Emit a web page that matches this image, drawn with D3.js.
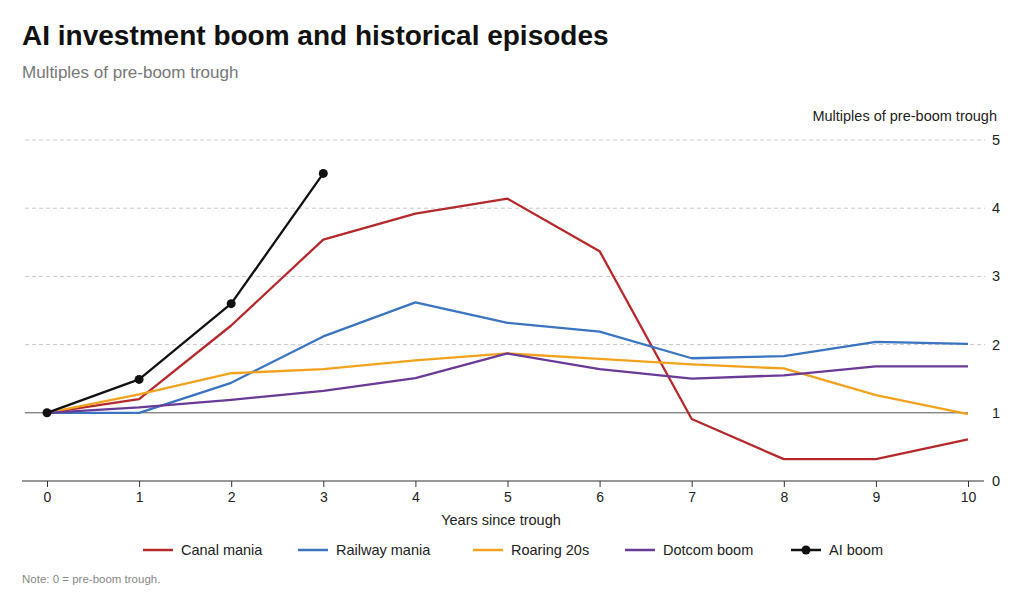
<!DOCTYPE html>
<html>
<head>
<meta charset="utf-8">
<script src="https://cdn.jsdelivr.net/npm/d3@7"></script>
<style>
  body { margin: 0; background: #fff; }
  svg { display: block; font-family: "Liberation Sans", Arial, Helvetica, sans-serif; }
</style>
</head>
<body>
<svg id="chart" width="1024" height="600"></svg>
<script>
// years since trough
const years = [0, 1, 2, 3, 4, 5, 6, 7, 8, 9, 10];

// multiples of pre-boom trough
const canal   = [1, 1.2, 2.28, 3.54, 3.92, 4.14, 3.37, 0.91, 0.32, 0.32, 0.61];
const railway = [1, 1.0, 1.44, 2.12, 2.62, 2.32, 2.19, 1.80, 1.83, 2.04, 2.01];
const roaring = [1, 1.27, 1.58, 1.64, 1.77, 1.87, 1.79, 1.71, 1.65, 1.26, 0.98];
const dotcom  = [1, 1.08, 1.19, 1.32, 1.51, 1.87, 1.64, 1.50, 1.55, 1.68, 1.68];
const aiBoom  = [1, 1.49, 2.60, 4.51];

const seriesNames = ['Canal mania', 'Railway mania', 'Roaring 20s', 'Dotcom boom', 'AI boom'];
const yTicks = [0, 1, 2, 3, 4, 5];

const colors = {
  'Canal mania': '#b5292c',
  'Railway mania': '#3b74c0',
  'Roaring 20s': '#f3a21d',
  'Dotcom boom': '#6a3a97',
  'AI boom': '#111111'
};

const series = [
  { name: 'Canal mania', values: canal },
  { name: 'Railway mania', values: railway },
  { name: 'Roaring 20s', values: roaring },
  { name: 'Dotcom boom', values: dotcom },
  { name: 'AI boom', values: aiBoom, dots: true }
];

const svg = d3.select('#chart');

const x = d3.scaleLinear().domain([0, 10]).range([47, 968]);
const y = d3.scaleLinear().domain([0, 5]).range([481, 140]);

// titles
svg.append('text')
  .attr('x', 22).attr('y', 45)
  .attr('font-size', 28).attr('font-weight', 'bold')
  .attr('fill', '#111')
  .text('AI investment boom and historical episodes');

svg.append('text')
  .attr('x', 22).attr('y', 78)
  .attr('font-size', 17).attr('fill', '#777')
  .text('Multiples of pre-boom trough');

// gridlines (dashed), skip 0 and 1
svg.append('g').selectAll('line')
  .data(yTicks.filter(d => d > 1))
  .join('line')
  .attr('x1', 25).attr('x2', 985)
  .attr('y1', d => y(d)).attr('y2', d => y(d))
  .attr('stroke', '#c8c8c8')
  .attr('stroke-width', 1)
  .attr('stroke-dasharray', '4,3');

// reference line at 1
svg.append('line')
  .attr('x1', 25).attr('x2', x(10))
  .attr('y1', y(1)).attr('y2', y(1))
  .attr('stroke', '#555').attr('stroke-width', 1);

// right axis labels
svg.append('g').selectAll('text')
  .data(yTicks)
  .join('text')
  .attr('x', 992)
  .attr('y', d => y(d) + 5)
  .attr('font-size', 14.5)
  .attr('fill', '#222')
  .text(d => d);

svg.append('text')
  .attr('x', 997).attr('y', 121)
  .attr('text-anchor', 'end')
  .attr('font-size', 14.5).attr('fill', '#222')
  .text('Multiples of pre-boom trough');

// x axis
const xAxis = d3.axisBottom(x).tickValues(years).tickSize(6).tickPadding(5).tickSizeOuter(0);
const gx = svg.append('g')
  .attr('transform', `translate(0,${y(0)})`)
  .call(xAxis);
gx.select('.domain').remove();
gx.selectAll('.tick line').attr('stroke', '#333');
gx.selectAll('.tick text')
  .attr('font-size', 14).attr('fill', '#222')
  .attr('font-family', '"Liberation Sans", Arial, sans-serif');
gx.append('line')
  .attr('x1', 22 ).attr('x2', 984)
  .attr('stroke', '#333').attr('stroke-width', 1.2);

svg.append('text')
  .attr('x', 501).attr('y', 525)
  .attr('text-anchor', 'middle')
  .attr('font-size', 14.5).attr('fill', '#222')
  .text('Years since trough');

// lines
const line = d3.line()
  .x((d, i) => x(years[i]))
  .y(d => y(d));

svg.append('g').selectAll('path')
  .data(series)
  .join('path')
  .attr('d', d => line(d.values))
  .attr('fill', 'none')
  .attr('stroke', d => colors[d.name])
  .attr('stroke-width', 2.3)
  .attr('stroke-linejoin', 'round');

svg.append('g').selectAll('circle')
  .data(aiBoom)
  .join('circle')
  .attr('cx', (d, i) => x(years[i]))
  .attr('cy', d => y(d))
  .attr('r', 4.5)
  .attr('fill', colors['AI boom']);

// legend
const legendX = [143, 298, 473, 625, 791];
const lg = svg.append('g').selectAll('g')
  .data(seriesNames)
  .join('g')
  .attr('transform', (d, i) => `translate(${legendX[i]},550)`);

lg.append('line')
  .attr('x1', 0).attr('x2', 30)
  .attr('stroke', d => colors[d])
  .attr('stroke-width', 2.5);
lg.filter(d => d === 'AI boom').append('circle')
  .attr('cx', 15).attr('r', 4.5)
  .attr('fill', colors['AI boom']);
lg.append('text')
  .attr('x', 38).attr('y', 5)
  .attr('font-size', 14.5).attr('fill', '#222')
  .text(d => d);

svg.append('text')
  .attr('x', 22).attr('y', 583)
  .attr('font-size', 11.5).attr('fill', '#888')
  .text('Note: 0 = pre-boom trough.');
</script>
</body>
</html>
